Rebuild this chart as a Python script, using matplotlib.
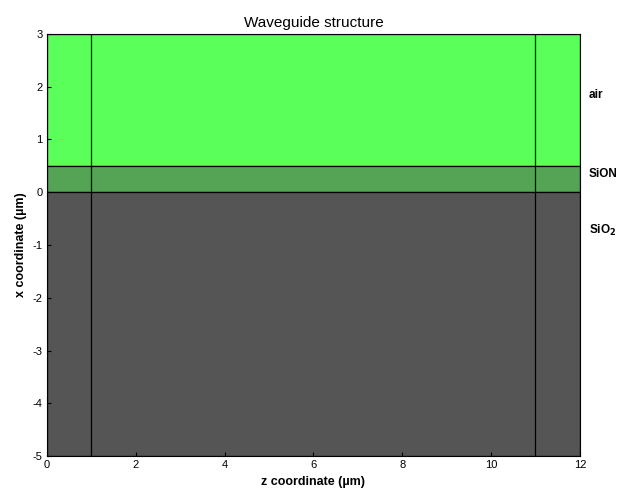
import matplotlib.pyplot as plt
from matplotlib.patches import Rectangle

plt.rcParams['font.family'] = ['Liberation Sans', 'DejaVu Sans']
plt.rcParams['axes.unicode_minus'] = False

z_min, z_max = 0, 12
layer_names = ['air', 'SiON', 'SiO$_\\mathbf{2}$']
layer_bottom = [0.5, 0.0, -5.0]
layer_top = [3.0, 0.5, 0.0]
layer_colors = ['#5aff5a', '#55a455', '#555555']
label_y = [1.84, 0.35, -0.72]
section_z = [1, 11]

fig = plt.figure(figsize=(6.24, 4.92), dpi=100)
ax = fig.add_axes([0.0753, 0.073, 0.854, 0.858])

for name, b, t, c, ly in zip(layer_names, layer_bottom, layer_top, layer_colors, label_y):
    ax.add_patch(Rectangle((z_min, b), z_max - z_min, t - b, facecolor=c,
                           edgecolor='black', linewidth=0.9))
    ax.text(12.2, ly, name, fontsize=8.5, fontweight='bold', va='center',
            ha='left', clip_on=False)

for z in section_z:
    ax.axvline(z, color='black', linewidth=0.9)

ax.set_xlim(z_min, z_max)
ax.set_ylim(-5, 3)
ax.set_xticks(range(0, 13, 2))
ax.set_yticks(range(-5, 4))
ax.tick_params(direction='in', length=3, labelsize=8, pad=3)
ax.set_title('Waveguide structure', fontsize=11, pad=5)
ax.set_xlabel('z coordinate (µm)', fontsize=9, fontweight='bold', labelpad=4)
ax.set_ylabel('x coordinate (µm)', fontsize=9, fontweight='bold', labelpad=4)

fig.savefig('out.png', dpi=100)
